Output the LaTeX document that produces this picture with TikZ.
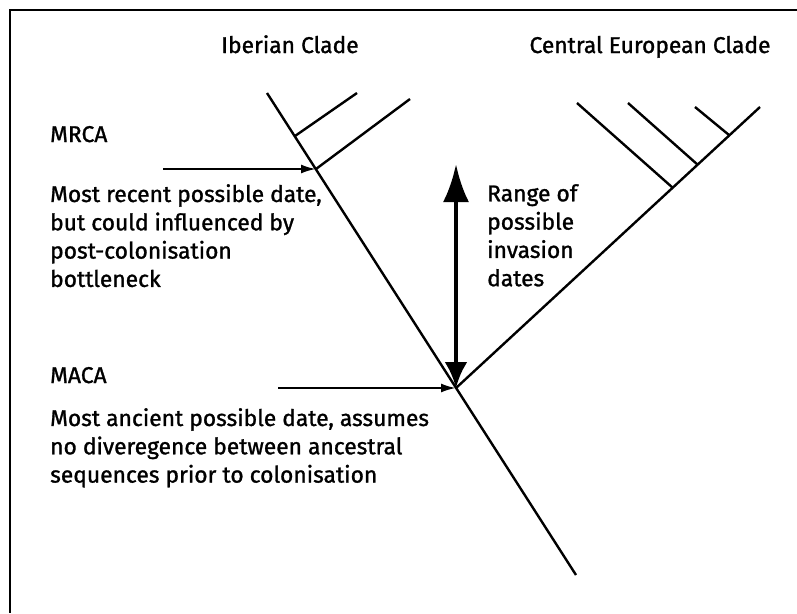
\documentclass[tikz,border=0pt]{standalone}
\usepackage{fontspec}
\newfontfamily\lblfont{Fira Sans}[FakeBold=1.2]
\usetikzlibrary{arrows.meta}
\begin{document}
\begin{tikzpicture}[x=1pt,y=-1pt,
  branch/.style={line width=2.4pt},
  frameline/.style={line width=2.8pt},
  pointer/.style={line width=2.2pt,-{Latex[length=15pt,width=9pt]}},
  rangearrow/.style={line width=4.5pt,{Latex[length=38pt,width=26pt]}-{Latex[length=26pt,width=23pt]}},
  lbl/.style={inner sep=0pt,font=\lblfont\fontsize{22.8}{28.3}\selectfont},
  para/.style={lbl,align=left,anchor=north west}]
\useasboundingbox (0,0) rectangle (797,613);

% open frame: top and left edges only
\coordinate (fTL) at (10,10);
\coordinate (fTR) at (797,10);
\coordinate (fBL) at (10,613);
\draw[frameline] (fTR) -- (fTL) -- (fBL);

% Iberian clade: main stem and its two side branches
\coordinate (ibTop) at (267,93);
\coordinate (root) at (576,575);
\coordinate (maca) at (456,388);
\coordinate (mrca) at (316,169);
\coordinate (ib1) at (295,136);
\coordinate (ib1tip) at (357,93);
\coordinate (ib2tip) at (410,99);
\draw[branch] (ibTop) -- (root);
\draw[branch] (ib1) -- (ib1tip);
\draw[branch] (mrca) -- (ib2tip);

% Central European clade
\coordinate (ceTip) at (760,107);
\coordinate (ce1) at (673,188);
\coordinate (ce1tip) at (577,103);
\coordinate (ce2) at (698,165);
\coordinate (ce2tip) at (628,103);
\coordinate (ce3) at (729,135);
\coordinate (ce3tip) at (695,107);
\draw[branch] (maca) -- (ceTip);
\draw[branch] (ce1) -- (ce1tip);
\draw[branch] (ce2) -- (ce2tip);
\draw[branch] (ce3) -- (ce3tip);

% clade titles
\node[lbl,anchor=base] (ibTitle) at (290,53) {Iberian Clade};
\node[lbl,anchor=base] (ceTitle) at (650,53) {Central European Clade};

% MRCA annotation
\node[lbl,anchor=base west] (mrcaLbl) at (50,142) {MRCA};
\coordinate (mrcaTail) at (163,169);
\draw[pointer] (mrcaTail) -- (mrca);
\node[para] (mrcaTxt) at (50,184) {Most recent possible date,\\but could influenced by\\post-colonisation\\bottleneck};

% MACA annotation
\node[lbl,anchor=base west] (macaLbl) at (50,383) {MACA};
\coordinate (macaTail) at (278,388);
\draw[pointer] (macaTail) -- (maca);
\node[para] (macaTxt) at (50,408) {Most ancient possible date, assumes\\no diveregence between ancestral\\sequences prior to colonisation};

% range of invasion dates
\coordinate (rangeTop) at (456,164);
\draw[rangearrow] (rangeTop) -- (maca);
\node[para] (rangeTxt) at (487,184) {Range of\\possible\\invasion\\dates};
\end{tikzpicture}
\end{document}
